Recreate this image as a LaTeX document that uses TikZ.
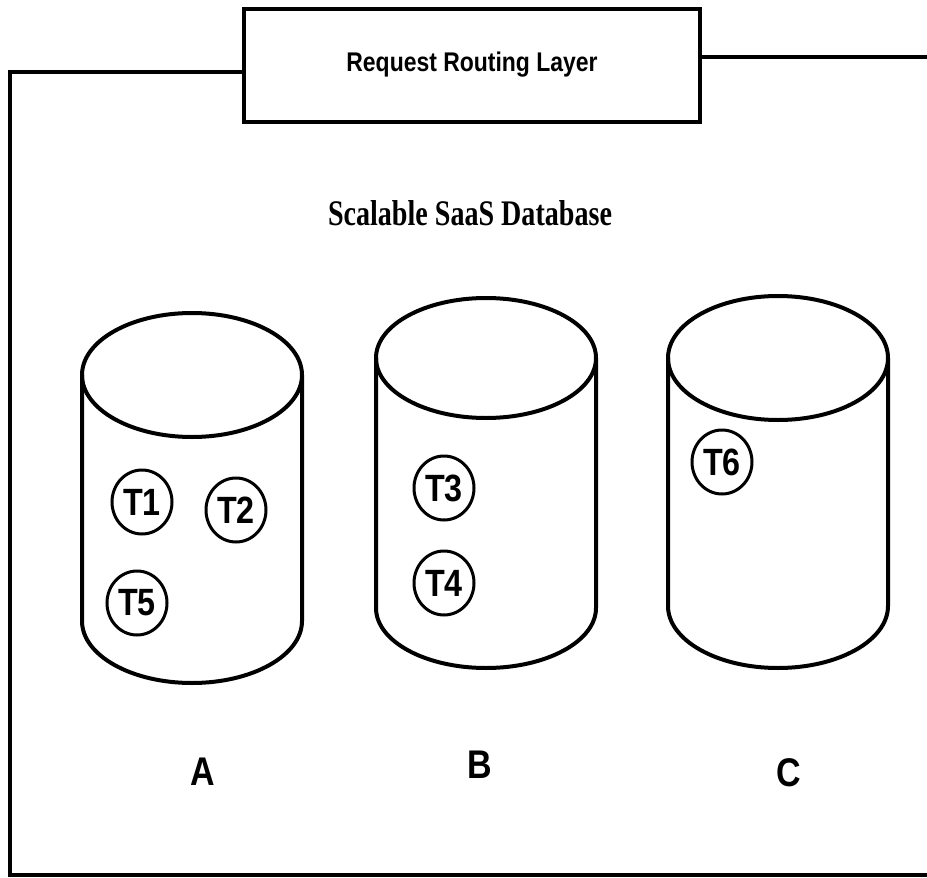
\documentclass[tikz,border=0pt]{standalone}
\usepackage{fontspec}
\setmainfont{Liberation Serif}
\setsansfont{Liberation Sans}
\newfontfamily\narrowsans[FakeStretch=0.85]{Liberation Sans}
\newfontfamily\narrowserif[FakeStretch=0.78]{Liberation Serif}
\usetikzlibrary{positioning,shapes.geometric}

\tikzset{
  wire/.style={line width=4pt},
  tenant/.style={draw, ellipse, line width=3pt, minimum width=60pt, minimum height=64pt, inner sep=0pt,
    font=\narrowsans\bfseries\fontsize{38}{38}\selectfont},
  dbname/.style={font=\narrowsans\bfseries\fontsize{40}{40}\selectfont},
}

\begin{document}
\begin{tikzpicture}[x=1pt,y=1pt]
  \useasboundingbox (0,0) rectangle (927,-878);
		  \node[draw, wire, minimum width=456pt, minimum height=113pt, font=\narrowsans\bfseries\fontsize{27}{27}\selectfont] (rrl) at (472,-65) {Request Routing Layer};
                  \coordinate (leftTop) at (10,-72);
                  \coordinate (leftBot) at (10,-875);
                  \coordinate (rightBot) at (930,-875);
                  \coordinate (rightTop) at (930,-57);
                  \draw[wire] (rrl.west |- leftTop) -- (leftTop) -- (leftBot) -- (rightBot);
                  \draw[wire] (rrl.east |- rightTop) -- (rightTop);
                  \node[font=\narrowserif\bfseries\fontsize{36}{36}\selectfont] (title) at (470,-213) {Scalable SaaS Database};
                  % shard A
                  \draw[wire] (192,-375) ellipse [x radius=110, y radius=62];
                  \draw[wire] (82,-375) -- (82,-621) arc[start angle=180, end angle=360, x radius=110, y radius=62] -- (302,-375);
                  % shard B
                  \draw[wire] (486,-358) ellipse [x radius=110, y radius=60];
                  \draw[wire] (376,-358) -- (376,-608) arc[start angle=180, end angle=360, x radius=110, y radius=60] -- (596,-358);
                  % shard C
                  \draw[wire] (778,-358) ellipse [x radius=110, y radius=62];
                  \draw[wire] (668,-358) -- (668,-606) arc[start angle=180, end angle=360, x radius=110, y radius=62] -- (888,-358);
                  \node[tenant] (t1) at (142,-502) {T1};
                  \node[tenant] (t2) at (236,-510) {T2};
                  \node[tenant] (t5) at (137,-603) {T5};
                  \node[tenant] (t3) at (444,-488) {T3};
                  \node[tenant] (t4) at (444,-583) {T4};
                  \node[tenant] (t6) at (722,-462) {T6};
                  \node[dbname] (nameA) at (203,-772) {A};
                  \node[dbname] (nameB) at (480,-765) {B};
                  \node[dbname] (nameC) at (789,-773) {C};
		\end{tikzpicture}
\end{document}
